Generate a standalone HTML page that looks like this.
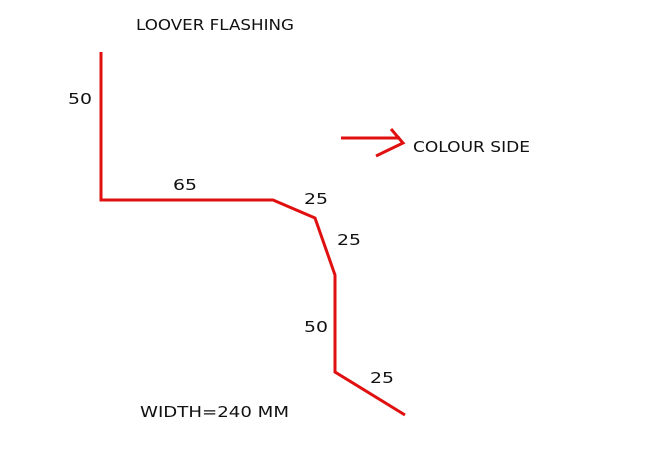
<!DOCTYPE html>
<html><head><meta charset="utf-8"><style>
html,body{margin:0;padding:0;background:#fff;width:665px;height:456px;overflow:hidden}
svg text{font-family:"DejaVu Sans","Liberation Sans",sans-serif;font-size:15px;fill:#111}
</style></head><body>
<svg width="665" height="456">
<text x="136" y="30" textLength="158" lengthAdjust="spacingAndGlyphs">LOOVER FLASHING</text>
<polyline points="101,52 101,200 273,200 315,218 335,275 335,372 405,415" fill="none" stroke="#e01010" stroke-width="3" stroke-linejoin="miter"/>
<g stroke="#e01010" stroke-width="3" fill="none">
<line x1="341" y1="138" x2="400" y2="138"/>
<polyline points="391,129 403,143 376,156"/>
</g>
<text x="413" y="152" textLength="117" lengthAdjust="spacingAndGlyphs">COLOUR SIDE</text>
<text x="68" y="104" textLength="24" lengthAdjust="spacingAndGlyphs">50</text>
<text x="173" y="190" textLength="24" lengthAdjust="spacingAndGlyphs">65</text>
<text x="304" y="204" textLength="24" lengthAdjust="spacingAndGlyphs">25</text>
<text x="337" y="245" textLength="24" lengthAdjust="spacingAndGlyphs">25</text>
<text x="304" y="332" textLength="24" lengthAdjust="spacingAndGlyphs">50</text>
<text x="370" y="383" textLength="24" lengthAdjust="spacingAndGlyphs">25</text>
<text x="140" y="417" textLength="149" lengthAdjust="spacingAndGlyphs">WIDTH=240 MM</text>
</svg>
</body></html>
